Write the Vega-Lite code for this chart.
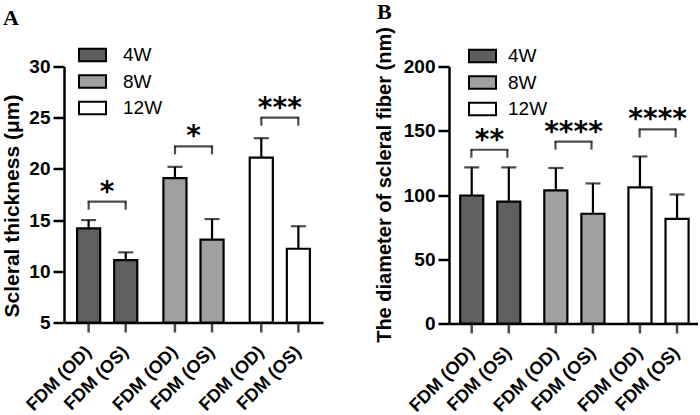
{
  "$schema": "https://vega.github.io/schema/vega-lite/v6.json",
  "background": "white",
  "padding": {"left": 0, "top": 0.5, "right": 0, "bottom": 0},
  "columns": 2,
  "align": "none",
  "spacing": 50,
  "resolve": {"scale": {"color": "independent"}, "legend": {"color": "independent"}},
  "datasets": {
    "barsA": [
      {"group": "4W", "eye": "OD", "label": "FDM (OD)", "mean": 14.2, "upper": 15.0},
      {"group": "4W", "eye": "OS", "label": "FDM (OS)", "mean": 11.1, "upper": 11.85},
      {"group": "8W", "eye": "OD", "label": "FDM (OD)", "mean": 19.1, "upper": 20.2},
      {"group": "8W", "eye": "OS", "label": "FDM (OS)", "mean": 13.1, "upper": 15.1},
      {"group": "12W", "eye": "OD", "label": "FDM (OD)", "mean": 21.1, "upper": 23.0},
      {"group": "12W", "eye": "OS", "label": "FDM (OS)", "mean": 12.2, "upper": 14.4}
    ],
    "sigA": [
      {"group": "4W", "y": 16.8, "stars": "*"},
      {"group": "8W", "y": 22.2, "stars": "*"},
      {"group": "12W", "y": 25.0, "stars": "***"}
    ],
    "barsB": [
      {"group": "4W", "eye": "OD", "label": "FDM (OD)", "mean": 99.6, "upper": 121.5},
      {"group": "4W", "eye": "OS", "label": "FDM (OS)", "mean": 94.9, "upper": 121.5},
      {"group": "8W", "eye": "OD", "label": "FDM (OD)", "mean": 103.6, "upper": 121},
      {"group": "8W", "eye": "OS", "label": "FDM (OS)", "mean": 85.4, "upper": 109},
      {"group": "12W", "eye": "OD", "label": "FDM (OD)", "mean": 106, "upper": 130},
      {"group": "12W", "eye": "OS", "label": "FDM (OS)", "mean": 81.4, "upper": 100.4}
    ],
    "sigB": [
      {"group": "4W", "y": 135.2, "stars": "**"},
      {"group": "8W", "y": 141.5, "stars": "****"},
      {"group": "12W", "y": 151, "stars": "****"}
    ]
  },
  "concat": [
    {
      "width": 259,
      "height": 256,
      "title": {"text": "A", "anchor": "start", "frame": "group", "dx": -61, "offset": 11, "font": "Liberation Serif", "fontSize": 22, "fontWeight": "bold", "color": "black"},
      "data": {"name": "barsA"},
      "layer": [
        {
          "mark": {"type": "bar", "stroke": "black", "strokeWidth": 2.2},
          "encoding": {
            "x": {"field": "group", "type": "nominal", "scale": {"domain": ["4W", "8W", "12W"], "paddingInner": 0.2, "paddingOuter": 0.1}, "axis": {"title": null, "labels": false, "ticks": false}},
            "xOffset": {"field": "eye", "type": "nominal", "scale": {"domain": ["OD", "OS"], "paddingInner": 0.378, "paddingOuter": 0.12}},
            "y": {"field": "mean", "type": "quantitative", "title": "Scleral thickness (μm)", "scale": {"domain": [5, 30], "nice": false, "zero": false},
              "axis": {"title": "Scleral thickness (μm)", "values": [5, 10, 15, 20, 25, 30], "tickSize": 11, "labelPadding": 3, "titleFontSize": 21, "titleX": -46, "titleY": 139, "titleBaseline": "alphabetic"}},
            "y2": {"datum": 5},
            "color": {"field": "group", "type": "nominal", "scale": {"domain": ["4W", "8W", "12W"], "range": ["#5f5f5f", "#a0a0a0", "#ffffff"]},
              "legend": {"orient": "none", "legendX": 14, "legendY": -26, "title": null, "symbolType": "M-1,-0.46H1V0.46H-1Z", "symbolSize": 729, "symbolStrokeColor": "black", "symbolStrokeWidth": 2, "symbolOpacity": 1, "labelFontSize": 19, "labelFont": "Liberation Sans", "labelColor": "black", "labelOffset": 16, "rowPadding": 1.5, "padding": 0}}
          }
        },
        {
          "mark": {"type": "rule", "color": "black", "strokeWidth": 2.2},
          "encoding": {
            "x": {"field": "group", "type": "nominal"},
            "xOffset": {"field": "eye", "type": "nominal"},
            "y": {"field": "mean", "type": "quantitative", "title": "Scleral thickness (μm)"},
            "y2": {"field": "upper"}
          }
        },
        {
          "mark": {"type": "tick", "orient": "horizontal", "color": "black", "size": 15, "thickness": 2.2},
          "encoding": {
            "x": {"field": "group", "type": "nominal"},
            "xOffset": {"field": "eye", "type": "nominal"},
            "y": {"field": "upper", "type": "quantitative", "title": "Scleral thickness (μm)"}
          }
        },
        {
          "mark": {"type": "tick", "orient": "vertical", "color": "black", "size": 10, "thickness": 2.5, "yOffset": 5},
          "encoding": {
            "x": {"field": "group", "type": "nominal"},
            "xOffset": {"field": "eye", "type": "nominal"},
            "y": {"datum": 5, "type": "quantitative", "title": "Scleral thickness (μm)"}
          }
        },
        {
          "mark": {"type": "text", "angle": 315, "align": "right", "baseline": "middle", "font": "Liberation Sans", "fontWeight": "bold", "fontSize": 18, "color": "black", "yOffset": 27},
          "encoding": {
            "x": {"field": "group", "type": "nominal"},
            "xOffset": {"field": "eye", "type": "nominal"},
            "y": {"datum": 5, "type": "quantitative", "title": "Scleral thickness (μm)"},
            "text": {"field": "label"}
          }
        },
        {
          "data": {"name": "sigA"},
          "mark": {"type": "tick", "orient": "horizontal", "color": "black", "size": 39, "thickness": 2.2},
          "encoding": {
            "x": {"field": "group", "type": "nominal"},
            "y": {"field": "y", "type": "quantitative", "title": "Scleral thickness (μm)"}
          }
        },
        {
          "data": {"name": "sigA"},
          "mark": {"type": "tick", "orient": "vertical", "color": "black", "size": 8, "thickness": 2.2, "yOffset": 4, "xOffset": -18.5},
          "encoding": {
            "x": {"field": "group", "type": "nominal"},
            "y": {"field": "y", "type": "quantitative", "title": "Scleral thickness (μm)"}
          }
        },
        {
          "data": {"name": "sigA"},
          "mark": {"type": "tick", "orient": "vertical", "color": "black", "size": 8, "thickness": 2.2, "yOffset": 4, "xOffset": 18.5},
          "encoding": {
            "x": {"field": "group", "type": "nominal"},
            "y": {"field": "y", "type": "quantitative", "title": "Scleral thickness (μm)"}
          }
        },
        {
          "data": {"name": "sigA"},
          "mark": {"type": "text", "font": "DejaVu Sans", "fontWeight": "bold", "fontSize": 28, "align": "center", "baseline": "alphabetic", "color": "black", "yOffset": -1},
          "encoding": {
            "x": {"field": "group", "type": "nominal"},
            "y": {"field": "y", "type": "quantitative", "title": "Scleral thickness (μm)"},
            "text": {"field": "stars"}
          }
        }
      ]
    },
    {
      "width": 249,
      "height": 257,
      "title": {"text": "B", "anchor": "start", "frame": "group", "dx": -72, "offset": 2.5, "font": "Liberation Serif", "fontSize": 22, "fontWeight": "bold", "color": "black"},
      "data": {"name": "barsB"},
      "layer": [
        {
          "mark": {"type": "bar", "stroke": "black", "strokeWidth": 2.2},
          "encoding": {
            "x": {"field": "group", "type": "nominal", "scale": {"domain": ["4W", "8W", "12W"], "paddingInner": 0.2, "paddingOuter": 0.08}, "axis": {"title": null, "labels": false, "ticks": false}},
            "xOffset": {"field": "eye", "type": "nominal", "scale": {"domain": ["OD", "OS"], "paddingInner": 0.36, "paddingOuter": 0.113}},
            "y": {"field": "mean", "type": "quantitative", "title": "The diameter of scleral fiber (nm)", "scale": {"domain": [0, 200], "nice": false},
              "axis": {"title": "The diameter of scleral fiber (nm)", "values": [0, 50, 100, 150, 200], "tickSize": 11, "labelPadding": 3, "titleFontSize": 20, "titleX": -59, "titleY": 118, "titleBaseline": "alphabetic"}},
            "y2": {"datum": 0},
            "color": {"field": "group", "type": "nominal", "scale": {"domain": ["4W", "8W", "12W"], "range": ["#5f5f5f", "#a0a0a0", "#ffffff"]},
              "legend": {"orient": "none", "legendX": 19, "legendY": -25, "title": null, "symbolType": "M-1,-0.46H1V0.46H-1Z", "symbolSize": 729, "symbolStrokeColor": "black", "symbolStrokeWidth": 2, "symbolOpacity": 1, "labelFontSize": 19, "labelFont": "Liberation Sans", "labelColor": "black", "labelOffset": 11, "rowPadding": 1.5, "padding": 0}}
          }
        },
        {
          "mark": {"type": "rule", "color": "black", "strokeWidth": 2.2},
          "encoding": {
            "x": {"field": "group", "type": "nominal"},
            "xOffset": {"field": "eye", "type": "nominal"},
            "y": {"field": "mean", "type": "quantitative", "title": "The diameter of scleral fiber (nm)"},
            "y2": {"field": "upper"}
          }
        },
        {
          "mark": {"type": "tick", "orient": "horizontal", "color": "black", "size": 15, "thickness": 2.2},
          "encoding": {
            "x": {"field": "group", "type": "nominal"},
            "xOffset": {"field": "eye", "type": "nominal"},
            "y": {"field": "upper", "type": "quantitative", "title": "The diameter of scleral fiber (nm)"}
          }
        },
        {
          "mark": {"type": "tick", "orient": "vertical", "color": "black", "size": 10, "thickness": 2.5, "yOffset": 5},
          "encoding": {
            "x": {"field": "group", "type": "nominal"},
            "xOffset": {"field": "eye", "type": "nominal"},
            "y": {"datum": 0, "type": "quantitative", "title": "The diameter of scleral fiber (nm)"}
          }
        },
        {
          "mark": {"type": "text", "angle": 315, "align": "right", "baseline": "middle", "font": "Liberation Sans", "fontWeight": "bold", "fontSize": 18, "color": "black", "yOffset": 27},
          "encoding": {
            "x": {"field": "group", "type": "nominal"},
            "xOffset": {"field": "eye", "type": "nominal"},
            "y": {"datum": 0, "type": "quantitative", "title": "The diameter of scleral fiber (nm)"},
            "text": {"field": "label"}
          }
        },
        {
          "data": {"name": "sigB"},
          "mark": {"type": "tick", "orient": "horizontal", "color": "black", "size": 38, "thickness": 2.2},
          "encoding": {
            "x": {"field": "group", "type": "nominal"},
            "y": {"field": "y", "type": "quantitative", "title": "The diameter of scleral fiber (nm)"}
          }
        },
        {
          "data": {"name": "sigB"},
          "mark": {"type": "tick", "orient": "vertical", "color": "black", "size": 8, "thickness": 2.2, "yOffset": 4, "xOffset": -18},
          "encoding": {
            "x": {"field": "group", "type": "nominal"},
            "y": {"field": "y", "type": "quantitative", "title": "The diameter of scleral fiber (nm)"}
          }
        },
        {
          "data": {"name": "sigB"},
          "mark": {"type": "tick", "orient": "vertical", "color": "black", "size": 8, "thickness": 2.2, "yOffset": 4, "xOffset": 18},
          "encoding": {
            "x": {"field": "group", "type": "nominal"},
            "y": {"field": "y", "type": "quantitative", "title": "The diameter of scleral fiber (nm)"}
          }
        },
        {
          "data": {"name": "sigB"},
          "mark": {"type": "text", "font": "DejaVu Sans", "fontWeight": "bold", "fontSize": 28, "align": "center", "baseline": "alphabetic", "color": "black", "yOffset": -1},
          "encoding": {
            "x": {"field": "group", "type": "nominal"},
            "y": {"field": "y", "type": "quantitative", "title": "The diameter of scleral fiber (nm)"},
            "text": {"field": "stars"}
          }
        }
      ]
    }
  ],
  "config": {
    "view": {"stroke": null},
    "axis": {"domainColor": "black", "tickColor": "black", "labelColor": "black", "titleColor": "black", "domainWidth": 2.5, "tickWidth": 2.5, "grid": false, "labelFont": "Liberation Sans", "titleFont": "Liberation Sans", "labelFontWeight": "bold", "titleFontWeight": "bold", "labelFontSize": 19}
  }
}
